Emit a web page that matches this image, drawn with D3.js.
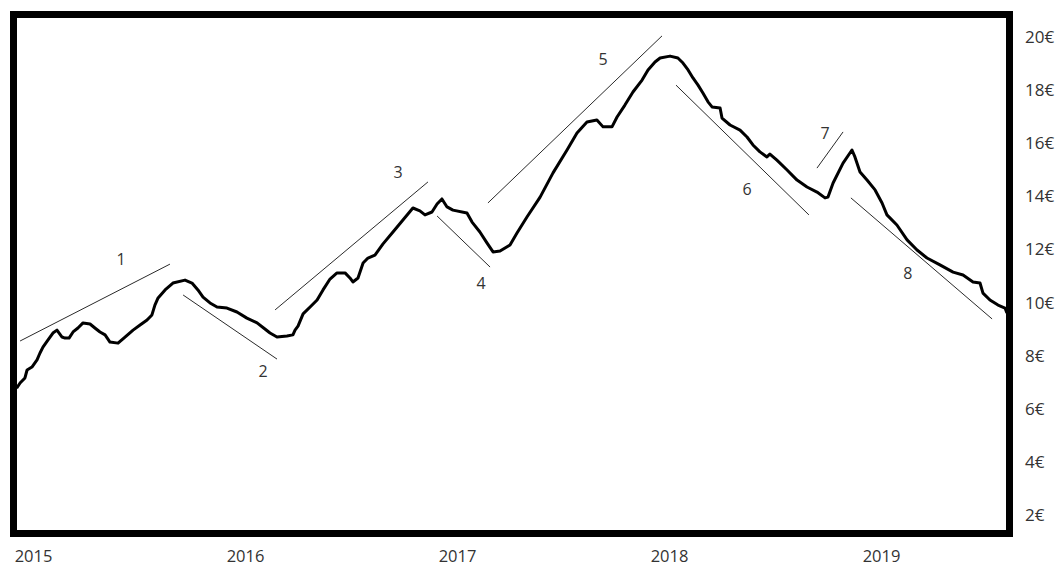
<!DOCTYPE html>
<html>
<head>
<meta charset="utf-8">
<script src="https://cdn.jsdelivr.net/npm/d3@7"></script>
<style>
  html, body { margin: 0; padding: 0; background: #fff; }
  svg { display: block; }
  text { font-family: "Open Sans", "DejaVu Sans", sans-serif; fill: #333; }
</style>
</head>
<body>
<svg id="chart" width="1062" height="568"></svg>
<script>
// ---- data (decimal years, price in €) ----
const dates = [
  2014.923, 2014.939, 2014.962, 2014.972, 2014.995, 2015.019, 2015.033, 2015.047, 2015.071, 2015.094,
  2015.113, 2015.137, 2015.151, 2015.170, 2015.189, 2015.212, 2015.236, 2015.269, 2015.292, 2015.316,
  2015.340, 2015.363, 2015.401, 2015.434, 2015.472, 2015.505, 2015.538, 2015.561, 2015.575, 2015.590,
  2015.623, 2015.660, 2015.717, 2015.750, 2015.778, 2015.802, 2015.835, 2015.868, 2015.915, 2015.962,
  2016.009, 2016.057, 2016.094, 2016.118, 2016.151, 2016.198, 2016.226, 2016.236, 2016.250, 2016.274,
  2016.307, 2016.340, 2016.368, 2016.401, 2016.434, 2016.472, 2016.495, 2016.509, 2016.533, 2016.557,
  2016.580, 2016.613, 2016.651, 2016.698, 2016.745, 2016.792, 2016.825, 2016.849, 2016.882, 2016.906,
  2016.929, 2016.953, 2016.981, 2017.047, 2017.071, 2017.108, 2017.142, 2017.170, 2017.203, 2017.250,
  2017.283, 2017.330, 2017.392, 2017.453, 2017.519, 2017.566, 2017.613, 2017.660, 2017.689, 2017.731,
  2017.755, 2017.792, 2017.830, 2017.873, 2017.901, 2017.934, 2017.958, 2018.005, 2018.042, 2018.066,
  2018.090, 2018.113, 2018.137, 2018.160, 2018.184, 2018.203, 2018.241, 2018.250, 2018.288, 2018.335,
  2018.368, 2018.396, 2018.429, 2018.462, 2018.476, 2018.509, 2018.557, 2018.604, 2018.651, 2018.698,
  2018.736, 2018.750, 2018.774, 2018.821, 2018.863, 2018.877, 2018.901, 2018.934, 2018.972, 2019.005,
  2019.028, 2019.075, 2019.123, 2019.170, 2019.217, 2019.278, 2019.340, 2019.387, 2019.434, 2019.467,
  2019.481, 2019.514, 2019.552, 2019.585, 2019.594
];
const prices = [
  6.79, 6.98, 7.17, 7.47, 7.58, 7.85, 8.11, 8.33, 8.60, 8.86,
  8.97, 8.71, 8.67, 8.67, 8.90, 9.05, 9.24, 9.20, 9.05, 8.90,
  8.79, 8.52, 8.48, 8.71, 8.97, 9.16, 9.35, 9.54, 9.91, 10.18,
  10.48, 10.74, 10.85, 10.74, 10.48, 10.21, 9.99, 9.84, 9.80, 9.65,
  9.42, 9.24, 9.01, 8.86, 8.71, 8.75, 8.79, 8.97, 9.12, 9.58,
  9.84, 10.10, 10.48, 10.89, 11.12, 11.12, 10.93, 10.78, 10.93, 11.49,
  11.68, 11.79, 12.21, 12.66, 13.11, 13.56, 13.45, 13.30, 13.41, 13.71,
  13.90, 13.60, 13.48, 13.37, 13.03, 12.66, 12.24, 11.91, 11.94, 12.17,
  12.62, 13.22, 13.97, 14.88, 15.74, 16.38, 16.79, 16.87, 16.61, 16.61,
  16.98, 17.43, 17.92, 18.37, 18.75, 19.05, 19.20, 19.27, 19.20, 19.01,
  18.75, 18.45, 18.18, 17.88, 17.55, 17.36, 17.32, 16.94, 16.68, 16.49,
  16.23, 15.93, 15.67, 15.48, 15.59, 15.36, 14.99, 14.61, 14.35, 14.16,
  13.94, 13.97, 14.50, 15.25, 15.74, 15.48, 14.91, 14.61, 14.24, 13.75,
  13.30, 12.92, 12.36, 11.98, 11.68, 11.42, 11.15, 11.04, 10.78, 10.74,
  10.36, 10.10, 9.91, 9.80, 9.61
];

// wave trend lines: start/end date and price
const waveLabels = ["1", "2", "3", "4", "5", "6", "7", "8"];
const waveStartDate  = [2014.939, 2015.708, 2016.142, 2016.906, 2017.146, 2018.033, 2018.698, 2018.858];
const waveStartPrice = [8.56, 10.29, 9.73, 13.26, 13.75, 18.18, 15.06, 13.94];
const waveEndDate    = [2015.646, 2016.151, 2016.863, 2017.156, 2017.967, 2018.660, 2018.821, 2019.524];
const waveEndPrice   = [11.45, 7.88, 14.54, 11.34, 20.03, 13.30, 16.42, 9.39];
const waveLabelDate  = [2015.415, 2016.085, 2016.722, 2017.113, 2017.689, 2018.368, 2018.736, 2019.127];
const waveLabelPrice = [11.64, 7.43, 14.91, 10.74, 19.16, 14.27, 16.38, 11.12];

const yearTicks  = [2015, 2016, 2017, 2018, 2019];
const priceTicks = [20, 18, 16, 14, 12, 10, 8, 6, 4, 2];

// ---- layout ----
const svg = d3.select("#chart");
const x = d3.scaleLinear().domain([2015, 2020]).range([33, 1093]);
const y = d3.scaleLinear().domain([2, 20]).range([515.5, 36.7]);

const plot = { x0: 10, y0: 11, x1: 1013, y1: 537, border: 7 };

svg.append("defs").append("clipPath").attr("id", "clip")
  .append("rect")
  .attr("x", plot.x0 + plot.border - 1).attr("y", plot.y0 + plot.border - 1)
  .attr("width", plot.x1 - plot.x0 - 2 * plot.border + 2)
  .attr("height", plot.y1 - plot.y0 - 2 * plot.border + 2);

const g = svg.append("g").attr("clip-path", "url(#clip)");

// trend lines
g.selectAll("line.wave")
  .data(waveLabels)
  .join("line")
  .attr("class", "wave")
  .attr("x1", (d, i) => x(waveStartDate[i]))
  .attr("y1", (d, i) => y(waveStartPrice[i]))
  .attr("x2", (d, i) => x(waveEndDate[i]))
  .attr("y2", (d, i) => y(waveEndPrice[i]))
  .attr("stroke", "#2a2a2a")
  .attr("stroke-width", 1);

// price line
const pts = dates.map((d, i) => [d, prices[i]]);
const line = d3.line().x(d => x(d[0])).y(d => y(d[1])).curve(d3.curveLinear);
g.append("path")
  .datum(pts)
  .attr("d", line)
  .attr("fill", "none")
  .attr("stroke", "#000")
  .attr("stroke-width", 3)
  .attr("stroke-linejoin", "round");

// wave labels
svg.selectAll("text.wave")
  .data(waveLabels)
  .join("text")
  .attr("class", "wave")
  .attr("x", (d, i) => x(waveLabelDate[i]))
  .attr("y", (d, i) => y(waveLabelPrice[i]))
  .attr("text-anchor", "middle")
  .attr("dominant-baseline", "central")
  .attr("font-size", 16)
  .attr("fill", "#333")
  .text(d => d);

// border frame
svg.append("rect")
  .attr("x", plot.x0 + plot.border / 2)
  .attr("y", plot.y0 + plot.border / 2)
  .attr("width", plot.x1 - plot.x0 - plot.border)
  .attr("height", plot.y1 - plot.y0 - plot.border)
  .attr("fill", "none")
  .attr("stroke", "#000")
  .attr("stroke-width", plot.border);

// right price axis
const yAxis = d3.axisRight(y).tickValues(priceTicks).tickSize(0).tickPadding(0)
  .tickFormat(d => d + "€");
const ya = svg.append("g").attr("transform", "translate(1025,0)").call(yAxis);
ya.select(".domain").remove();
ya.selectAll("text").attr("font-size", 17).attr("fill", "#333")
  .style("font-family", "'Open Sans', sans-serif");

// bottom year axis
const xAxis = d3.axisBottom(x).tickValues(yearTicks).tickSize(0).tickPadding(0)
  .tickFormat(d3.format("d"));
const xa = svg.append("g").attr("transform", "translate(0,550)").call(xAxis);
xa.select(".domain").remove();
xa.selectAll("text").attr("font-size", 16.5).attr("fill", "#333")
  .style("font-family", "'Open Sans', sans-serif");
</script>
</body>
</html>
